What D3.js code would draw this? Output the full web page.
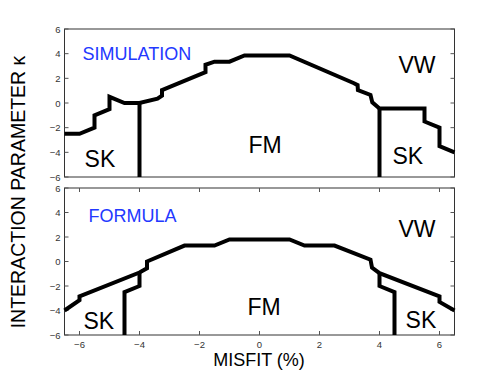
<!DOCTYPE html>
<meta charset="utf-8">
<style>
  body { margin: 0; background: #fff; }
  text { font-family: "Liberation Sans", Arial, Helvetica, sans-serif; }
</style>
<body></body>
<script src="https://d3js.org/d3.v7.min.js"></script>
<script>

var width = 501,
    height = 377;

// misfit ticks and kappa ticks
var xTicks = [-6, -4, -2, 0, 2, 4, 6],
    yTicks = [-6, -4, -2, 0, 2, 4, 6];

// simulation: FM / VW boundary and SK boundaries
var simX = [-6.5, -6, -5.5, -5.5, -5, -5, -4.5, -4, -3.4, -3.25, -3.25, -1.8, -1.8, -1.5, -1, -0.5, 1, 3.15, 3.27, 3.28, 3.7, 3.76, 4, 5.5, 5.5, 6, 6, 6.5],
    simY = [-2.5, -2.5, -2, -1, -0.5, 0.5, 0, 0, 0.35, 0.6, 1.05, 2.5, 3.1, 3.35, 3.35, 3.85, 3.85, 1.6, 1.45, 1.05, 0.65, 0.05, -0.45, -0.45, -1.5, -2, -3.5, -4];
var simSkLeftX = [-4, -4],
    simSkLeftY = [0, -6],
    simSkRightX = [4, 4],
    simSkRightY = [-0.45, -6];

// formula
var forX = [-6.5, -6, -6, -4, -3.75, -3.75, -2.5, -1.5, -1, 1, 1.5, 2.5, 3.7, 3.75, 4, 6, 6, 6.5],
    forY = [-4, -3.15, -2.85, -0.9, -0.55, 0, 1.3, 1.3, 1.8, 1.8, 1.3, 1.3, 0.15, -0.5, -0.95, -2.85, -3.3, -4];
var forSkLeftX = [-4, -4, -4.5, -4.5],
    forSkLeftY = [-0.9, -2, -2.5, -6],
    forSkRightX = [4, 4, 4.5, 4.5],
    forSkRightY = [-0.95, -2, -2.5, -6];

var svg = d3.select("body").append("svg")
    .attr("width", width)
    .attr("height", height);

var x = d3.scaleLinear().domain([-6.5, 6.5]).range([64.5, 454.5]);

function zip(xs, ys) { return xs.map(function(v, i) { return [v, ys[i]]; }); }

function panel(top, bottom, showX, lines, labels) {
  var y = d3.scaleLinear().domain([-6, 6]).range([bottom, top]);
  var g = svg.append("g");

  g.append("rect")
      .attr("x", x.range()[0]).attr("y", top)
      .attr("width", x.range()[1] - x.range()[0]).attr("height", bottom - top)
      .attr("fill", "none").attr("stroke", "#333").attr("stroke-width", 1);

  var tick = 4;
  yTicks.forEach(function(t) {
    g.append("line").attr("x1", x.range()[0]).attr("x2", x.range()[0] + tick)
        .attr("y1", y(t)).attr("y2", y(t)).attr("stroke", "#555");
    g.append("line").attr("x1", x.range()[1]).attr("x2", x.range()[1] - tick)
        .attr("y1", y(t)).attr("y2", y(t)).attr("stroke", "#555");
    g.append("text").attr("x", x.range()[0] - 4).attr("y", y(t) + 3.5)
        .attr("text-anchor", "end").attr("font-size", 9.5).attr("fill", "#333")
        .text(d3.format("")(t).replace("-", "\u2212"));
  });
  if (showX) {
    xTicks.forEach(function(t) {
      g.append("line").attr("x1", x(t)).attr("x2", x(t))
          .attr("y1", bottom).attr("y2", bottom - tick).attr("stroke", "#555");
      g.append("line").attr("x1", x(t)).attr("x2", x(t))
          .attr("y1", top).attr("y2", top + tick).attr("stroke", "#555");
      g.append("text").attr("x", x(t)).attr("y", bottom + 13)
          .attr("text-anchor", "middle").attr("font-size", 9.5).attr("fill", "#333")
          .text(d3.format("")(t).replace("-", "\u2212"));
    });
  }

  var line = d3.line().x(function(d) { return x(d[0]); }).y(function(d) { return y(d[1]); });
  lines.forEach(function(l) {
    g.append("path").attr("d", line(l))
        .attr("fill", "none").attr("stroke", "#000")
        .attr("stroke-width", 4).attr("stroke-linejoin", "miter");
  });

  labels.forEach(function(l) {
    g.append("text").attr("x", x(l[1])).attr("y", y(l[2]))
        .attr("font-size", l[3]).attr("fill", l[4] || "#000").text(l[0]);
  });
}

panel(29, 177, false,
  [zip(simX, simY), zip(simSkLeftX, simSkLeftY), zip(simSkRightX, simSkRightY)],
  [["SIMULATION", -5.9, 3.5, 18, "#2238ff"],
   ["VW", 4.63, 2.43, 23],
   ["FM", -0.37, -4.08, 23],
   ["SK", -5.83, -5.19, 23],
   ["SK", 4.43, -4.95, 23]]);

panel(188, 335, true,
  [zip(forX, forY), zip(forSkLeftX, forSkLeftY), zip(forSkRightX, forSkRightY)],
  [["FORMULA", -5.7, 3.22, 18, "#2238ff"],
   ["VW", 4.63, 2.0, 23],
   ["FM", -0.4, -4.37, 23],
   ["SK", -5.87, -5.51, 23],
   ["SK", 4.87, -5.43, 23]]);

svg.append("text")
    .attr("x", 259).attr("y", 366)
    .attr("text-anchor", "middle").attr("font-size", 18)
    .text("MISFIT (%)");

svg.append("text")
    .attr("transform", "translate(25,192) rotate(-90)")
    .attr("text-anchor", "middle").attr("font-size", 19.5)
    .text("INTERACTION PARAMETER \u03ba");

</script>
